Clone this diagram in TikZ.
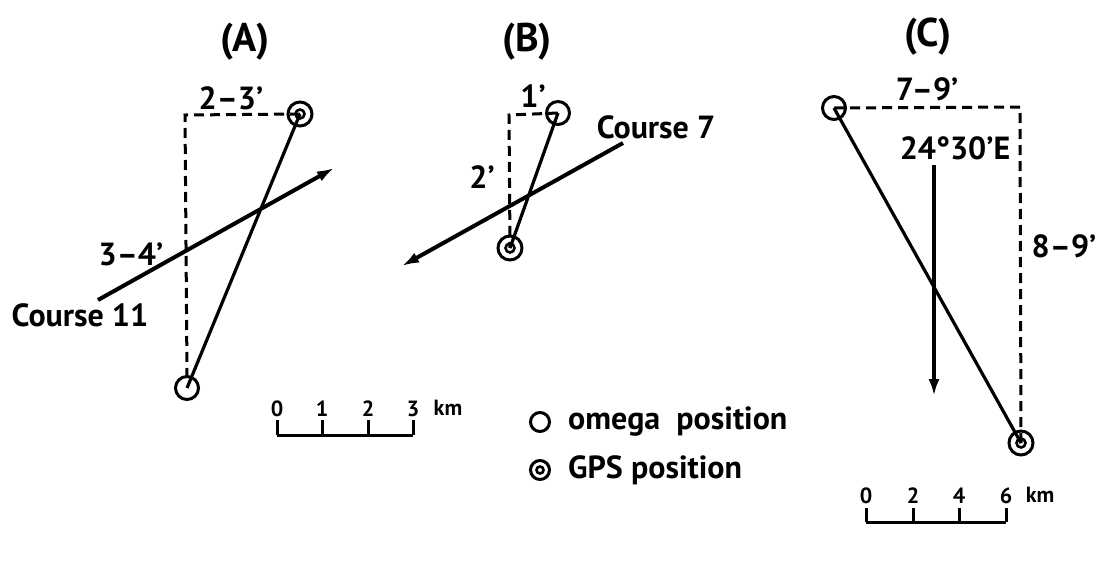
\documentclass[tikz,border=0pt]{standalone}
\usepackage{fontspec}
\setmainfont{PT Sans}
\usetikzlibrary{arrows.meta}
\tikzset{
  lbl/.style={font=\fontsize{32}{34}\selectfont\bfseries, inner sep=0pt},
  ttl/.style={font=\fontsize{40}{42}\selectfont\bfseries, inner sep=0pt},
  sc/.style={font=\fontsize{22}{23}\selectfont\bfseries, inner sep=0pt},
  omega/.style={circle, draw, line width=3pt, minimum size=23pt, inner sep=0pt},
  gps/.style={circle, draw, line width=3pt, minimum size=24pt, inner sep=0pt,
    path picture={\draw[line width=2.6pt] (path picture bounding box.center) circle (4.5pt);}},
  track/.style={line width=3.2pt},
  course/.style={line width=4pt, -{Latex[length=17pt,width=11pt]}},
  dashln/.style={line width=3pt, dash pattern=on 10pt off 6pt},
  bar/.style={line width=3pt}
}
\begin{document}
\begin{tikzpicture}[x=1pt,y=-1pt]
\useasboundingbox (0,0) rectangle (1098,563);
% ---------- (A) ----------
\node[ttl] (tA) at (245,42) {(A)};
\node[gps] (gA) at (300,114) {};
\node[omega] (oA) at (187,388) {};
\coordinate (cA) at (185,115);
\draw[dashln] (gA.center) -- (cA) -- (oA.north);
\draw[track] (oA.center) -- (gA.center);
\coordinate (sA) at (98,300);
\coordinate (eA) at (334,168);
\draw[course] (sA) -- (eA);
\node[lbl] (l23) at (231,98) {2--3'};
\node[lbl] (l34) at (131,254) {3--4'};
\node[lbl] (c11) at (80,315) {Course 11};
% ---------- (B) ----------
\node[ttl] (tB) at (527,42) {(B)};
\node[omega] (oB) at (558,113) {};
\node[gps] (gB) at (510,248) {};
\coordinate (cB) at (509,115);
\draw[dashln] (oB.center) -- (cB) -- (gB.center);
\draw[track] (oB.center) -- (gB.center);
\coordinate (sB) at (623,143);
\coordinate (eB) at (402,266);
\draw[course] (sB) -- (eB);
\node[lbl] (l1) at (533,96) {1'};
\node[lbl] (l2) at (482,177) {2'};
\node[lbl] (c7) at (656,127) {Course 7};
% ---------- (C) ----------
\node[ttl] (tC) at (928,37) {(C)};
\node[omega] (oC) at (834,108) {};
\node[gps] (gC) at (1021,443) {};
\coordinate (cC) at (1020,107);
\draw[dashln] (oC.center) -- (cC) -- (gC.center);
\draw[track] (oC.center) -- (gC.center);
\coordinate (sC) at (934,165);
\coordinate (eC) at (934,396);
\draw[course] (sC) -- (eC);
\node[lbl] (l79) at (927,89) {7--9'};
\node[lbl] (lE) at (955,148) {24°30'E};
\node[lbl] (l89) at (1064,246) {8--9'};
% ---------- scale bar A ----------
\foreach \x/\t [count=\i] in {277/0,322/1,368/2,413/3}{
  \coordinate (a\i) at (\x,435);
  \draw[bar] (\x,420) -- (a\i);
  \node[sc] (sa\i) at (\x,409) {\t};
}
\draw[bar] (a1) -- (a4);
\node[sc] (kmA) at (448,408) {km};
% ---------- scale bar C ----------
\foreach \x/\t [count=\i] in {866/0,913/2,959/4,1006/6}{
  \coordinate (b\i) at (\x,522);
  \draw[bar] (\x,508) -- (b\i);
  \node[sc] (sb\i) at (\x,496) {\t};
}
\draw[bar] (b1) -- (b4);
\node[sc] (kmC) at (1040,495) {km};
% ---------- legend ----------
\node[omega, minimum size=19pt] (lo) at (540,422) {};
\node[lbl, anchor=west] (lot) at (568,422) {omega\ \ position};
\node[gps, minimum size=19pt, path picture={\draw[line width=2.6pt] (path picture bounding box.center) circle (3.5pt);}] (lg) at (540,470) {};
\node[lbl, anchor=west] (lgt) at (568,470) {GPS position};
\end{tikzpicture}
\end{document}
